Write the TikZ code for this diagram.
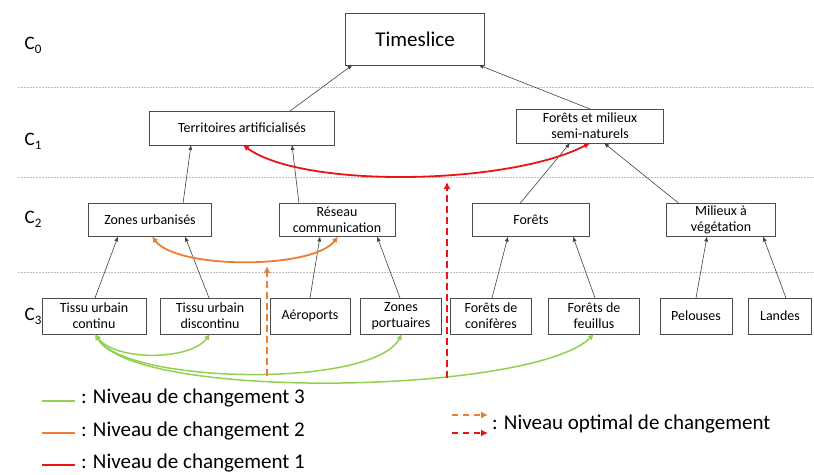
\documentclass[tikz,border=0pt]{standalone}
\usepackage{fontspec}
\setmainfont{Carlito}
\usetikzlibrary{arrows.meta}
\definecolor{niv3}{RGB}{146,208,80}
\definecolor{niv2}{RGB}{237,125,49}
\definecolor{niv1}{RGB}{235,20,20}
\newcommand{\niv}[1]{C\raisebox{-4pt}{\fontsize{13}{13}\selectfont #1}}
\begin{document}
\begin{tikzpicture}[x={(1pt,0pt)},y={(0pt,-1pt)},
  every node/.style={outer sep=0pt, inner sep=1pt},
  classe/.style={draw=black!70, fill=white, align=center, font=\fontsize{14}{16}\selectfont, minimum height=33pt},
  lien/.style={draw=black!75, line width=0.6pt, -{Latex[length=5pt,width=4pt]}},
  courbe/.style={line width=1.8pt, {Latex[length=6pt,width=6pt]}-{Latex[length=6pt,width=6pt]}},
  optimal/.style={line width=2.5pt, dash pattern=on 7pt off 4pt, -{Latex[length=7pt,width=7pt]}},
  strate/.style={draw=black!25, line width=0.5pt, dash pattern=on 1.5pt off 1.5pt},
  niveau/.style={font=\fontsize{19}{21}\selectfont},
  legende/.style={anchor=west, font=\fontsize{21}{23}\selectfont}]
\useasboundingbox (0,0) rectangle (814,474);
% niveaux
\draw[strate] (18,87) -- (814,87);
\draw[strate] (18,177) -- (814,177);
\draw[strate] (18,272) -- (814,272);
\node[niveau] (c0) at (33,45) {\niv{0}};
\node[niveau] (c1) at (33,141) {\niv{1}};
\node[niveau] (c2) at (33,219) {\niv{2}};
\node[niveau] (c3) at (33,316) {\niv{3}};
% classes
\node[classe, minimum width=139pt, minimum height=52pt, font=\fontsize{21}{24}\selectfont] (ts) at (415,39) {Timeslice};
\node[classe, minimum width=185pt, minimum height=34pt] (ter) at (242,128) {Territoires artificialisés};
\node[classe, minimum width=147pt, minimum height=34pt] (fem) at (590,126) {Forêts et milieux\\semi-naturels};
\node[classe, minimum width=123pt] (zu) at (150,220) {Zones urbanisés};
\node[classe, minimum width=116pt] (res) at (337,220) {Réseau\\communication};
\node[classe, minimum width=117pt] (for) at (531,220) {Forêts};
\node[classe, minimum width=109pt] (mil) at (721,220) {Milieux à\\végétation};
\node[classe, minimum width=104pt, minimum height=36pt] (tuc) at (94,316) {Tissu urbain\\continu};
\node[classe, minimum width=100pt, minimum height=36pt] (tud) at (210,316) {Tissu urbain\\discontinu};
\node[classe, minimum width=80pt, minimum height=36pt] (aer) at (310,316) {Aéroports};
\node[classe, minimum width=81pt, minimum height=36pt] (zp) at (401,316) {Zones\\portuaires};
\node[classe, minimum width=81pt, minimum height=36pt] (fco) at (491,316) {Forêts de\\conifères};
\node[classe, minimum width=91pt, minimum height=36pt] (ffe) at (594,316) {Forêts de\\feuillus};
\node[classe, minimum width=72pt, minimum height=36pt] (pel) at (696,316) {Pelouses};
\node[classe, minimum width=63pt, minimum height=36pt] (lan) at (780,316) {Landes};
% hierarchie
\draw[lien] ([xshift=48pt]ter.north) -- ([xshift=7pt]ts.south west);
\draw[lien] (fem.north) -- ([xshift=-6pt]ts.south east);
\draw[lien] ([xshift=33pt]zu.north) -- ([xshift=-51pt]ter.south);
\draw[lien] ([xshift=-38pt]res.north) -- ([xshift=50pt]ter.south);
\draw[lien] ([xshift=-11pt]for.north) -- ([xshift=-20pt]fem.south);
\draw[lien] ([xshift=-42pt]mil.north) -- ([xshift=14pt]fem.south);
\draw[lien] ([xshift=1pt]tuc.north) -- ([xshift=-32pt]zu.south);
\draw[lien] ([xshift=-1pt]tud.north) -- ([xshift=35pt]zu.south);
\draw[lien] (aer.north) -- ([xshift=-17pt]res.south);
\draw[lien] ([xshift=-1pt]zp.north) -- ([xshift=40pt]res.south);
\draw[lien] ([xshift=1pt]fco.north) -- ([xshift=-23pt]for.south);
\draw[lien] ([xshift=1pt]ffe.north) -- ([xshift=42pt]for.south);
\draw[lien] (pel.north) -- ([xshift=-14pt]mil.south);
\draw[lien] ([xshift=6pt]lan.north) -- ([xshift=42pt]mil.south);
% changements
\draw[courbe, niv1] (fem.south) .. controls +(-80,42) and +(60,44) .. ([xshift=1pt]ter.south);
\draw[courbe, niv2] ([xshift=2pt]zu.south) .. controls +(25,33) and +(-25,33) .. ([xshift=1pt]res.south);
\draw[courbe, niv3, line width=1.5pt] ([xshift=1pt]tuc.south) .. controls +(20,27) and +(-20,27) .. (tud.south);
\draw[courbe, niv3, line width=1.5pt] ([xshift=1pt]tuc.south) .. controls +(30,50) and +(-30,55) .. ([xshift=1pt]zp.south);
\draw[courbe, niv3, line width=1.5pt] ([xshift=1pt]tuc.south) .. controls +(40,68) and +(-60,60) .. (ffe.south);
\coordinate (o1) at (267,376);
\coordinate (o2) at (267,266);
\coordinate (r1) at (447,378);
\coordinate (r2) at (447,182);
\draw[optimal, niv2] (o1) -- (o2);
\draw[optimal, niv1] (r1) -- (r2);
% legende
\coordinate (l3a) at (42,401); \coordinate (l3b) at (75,401);
\coordinate (l2a) at (42,433); \coordinate (l2b) at (75,433);
\coordinate (l1a) at (42,465); \coordinate (l1b) at (75,465);
\draw[niv3, line width=2.5pt] (l3a) -- (l3b);
\draw[niv2, line width=2.5pt] (l2a) -- (l2b);
\draw[niv1, line width=2.5pt] (l1a) -- (l1b);
\node[legende] (t3) at (80,398) {: Niveau de changement 3};
\node[legende] (t2) at (80,431) {: Niveau de changement 2};
\node[legende] (t1) at (80,463) {: Niveau de changement 1};
\coordinate (lo1) at (452,415); \coordinate (lo2) at (488,415);
\coordinate (lr1) at (452,433); \coordinate (lr2) at (488,433);
\draw[optimal, niv2, line width=2pt, dash pattern=on 6pt off 5pt] (lo1) -- (lo2);
\draw[optimal, niv1, line width=2pt, dash pattern=on 6pt off 5pt] (lr1) -- (lr2);
\node[legende] (to) at (491,424) {: Niveau optimal de changement};
\end{tikzpicture}
\end{document}
